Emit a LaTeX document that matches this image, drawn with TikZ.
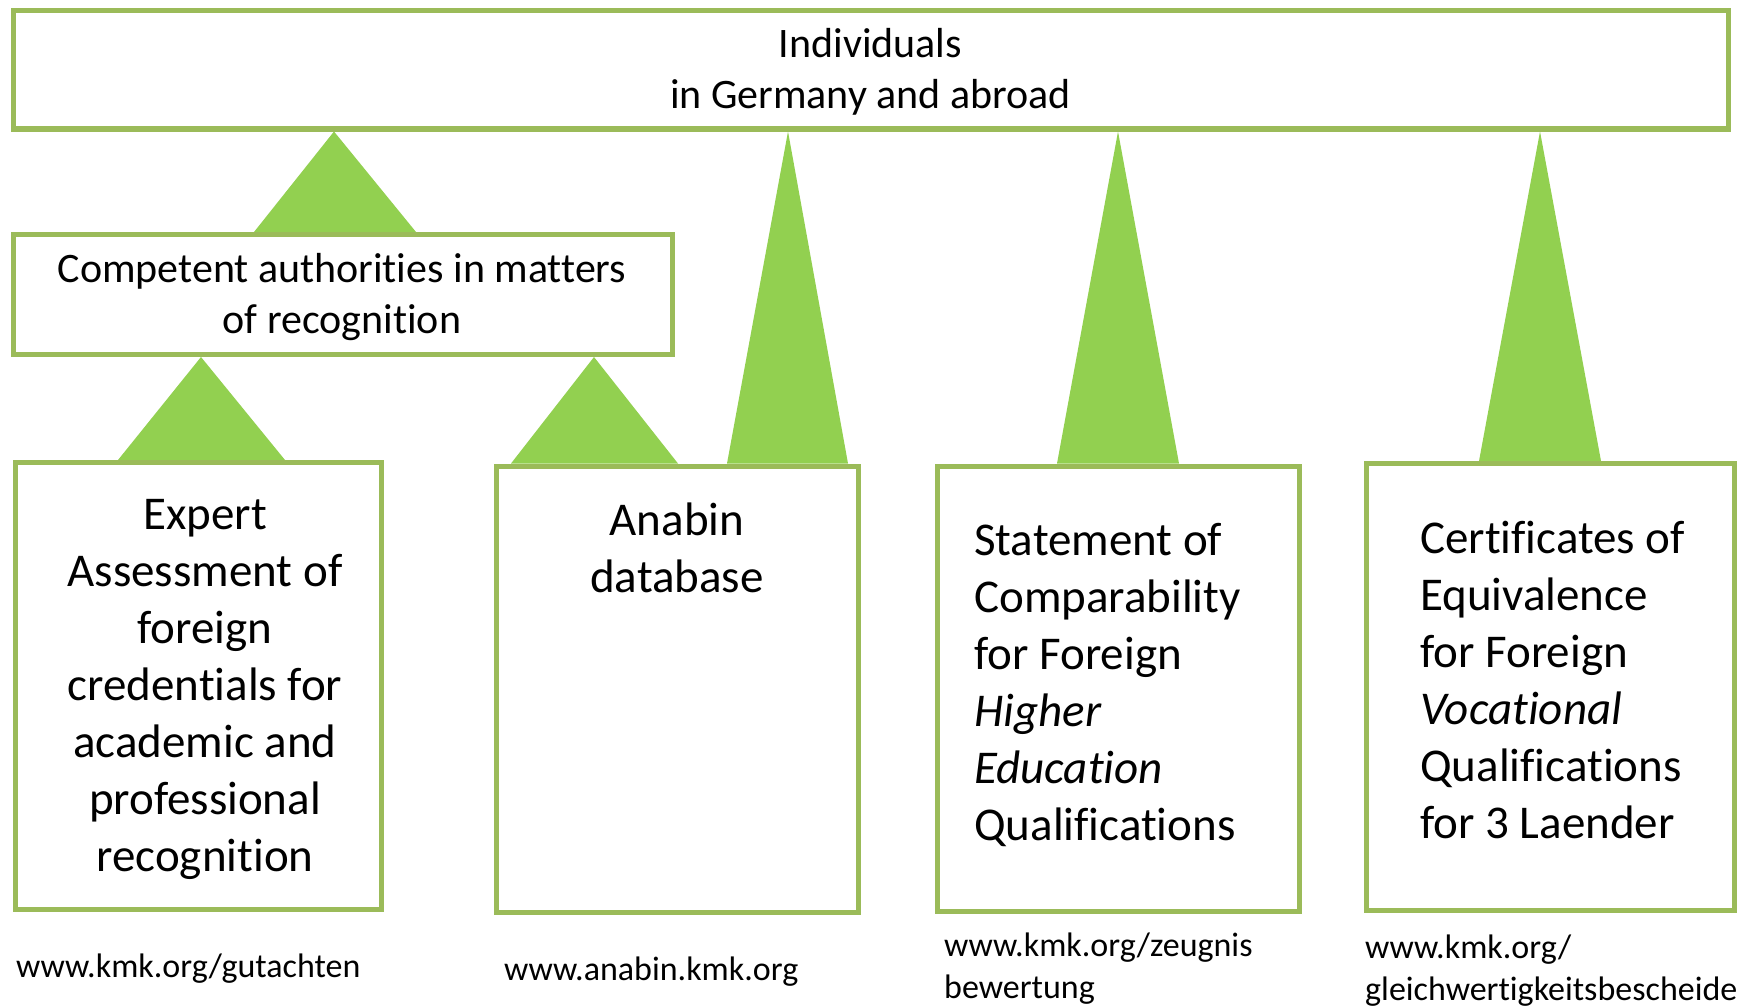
\documentclass[tikz,border=0pt]{standalone}
\usepackage{fontspec}
\setmainfont{Carlito}[Ligatures=NoCommon]
\definecolor{bord}{HTML}{9BBB59}
\definecolor{trig}{HTML}{92D050}
\begin{document}
\begin{tikzpicture}[x=1pt,y=-1pt,
  bx/.style={draw=bord, line width=5pt, inner sep=0pt, rectangle},
  tri/.style={fill=trig},
  big/.style={font=\fontsize{47}{57}\selectfont, inner sep=0pt},
  mid/.style={font=\fontsize{42}{51}\selectfont, inner sep=0pt, align=center},
  url/.style={font=\fontsize{34}{42}\selectfont, inner sep=0pt, align=left}]
\useasboundingbox (0,0) rectangle (1760,1006);
\fill[white] (0,0) rectangle (1760,1006);

% box shapes (named), borders drawn after the triangles
\node[bx, minimum width=1715pt, minimum height=118pt, draw=none] (top) at (870.5,70) {};
\node[bx, minimum width=659pt, minimum height=120pt, draw=none] (comp) at (343,294.5) {};
\node[bx, minimum width=366pt, minimum height=447pt, draw=none] (exp) at (198.5,686) {};
\node[bx, minimum width=362pt, minimum height=446pt, draw=none] (ana) at (677.5,689) {};
\node[bx, minimum width=362pt, minimum height=445pt, draw=none] (stm) at (1118.5,688.5) {};
\node[bx, minimum width=368pt, minimum height=447pt, draw=none] (cer) at (1550.5,687) {};

% triangles (connectors)
\fill[tri] (334,0 |- top.south) -- (416,0 |- comp.north) -- (254,0 |- comp.north) -- cycle;
\fill[tri] (201,0 |- comp.south) -- (285,0 |- exp.north) -- (118,0 |- exp.north) -- cycle;
\fill[tri] (594,0 |- comp.south) -- (678,0 |- ana.north) -- (511,0 |- ana.north) -- cycle;
\fill[tri] (788,0 |- top.south) -- (848,0 |- ana.north) -- (727,0 |- ana.north) -- cycle;
\fill[tri] (1118,0 |- top.south) -- (1179,0 |- stm.north) -- (1057,0 |- stm.north) -- cycle;
\fill[tri] (1540,0 |- top.south) -- (1601,0 |- cer.north) -- (1479,0 |- cer.north) -- cycle;

% box borders
\foreach \n in {top,comp,exp,ana,stm,cer}
  \draw[draw=bord, line width=5pt] (\n.south west) ++(2.5,-2.5) rectangle ([shift={(-2.5,2.5)}]\n.north east);

% texts
\node[mid, anchor=north] (ttop) at (870.5,23) {\rule{0pt}{34pt}Individuals\\in Germany and abroad};
\node[mid, anchor=north] (tcomp) at (342,248) {\rule{0pt}{34pt}Competent authorities in matters\\of recognition};
\node[big, align=center, anchor=north] (texp) at (205,489) {\rule{0pt}{40pt}Expert\\Assessment of\\foreign\\credentials for\\academic and\\professional\\recognition};
\node[big, align=center, anchor=north] (tana) at (677,495) {\rule{0pt}{40pt}Anabin\\database};
\node[big, align=left, anchor=north west] (tstm) at (974,515) {\rule{0pt}{40pt}Statement of\\Comparability\\for Foreign\\\textit{Higher}\\\textit{Education}\\Qualifications};
\node[big, align=left, anchor=north west] (tcer) at (1420,513) {\rule{0pt}{40pt}Certificates of\\Equivalence\\for Foreign\\\textit{Vocational}\\Qualifications\\for 3 Laender};

% URLs
\node[url, anchor=base west] (u1) at (16,977) {www.kmk.org/gutachten};
\node[url, anchor=base west] (u2) at (504,980) {www.anabin.kmk.org};
\node[url, anchor=north west] (u3) at (944,928) {\rule{0pt}{28pt}www.kmk.org/zeugnis\\bewertung};
\node[url, anchor=north west] (u4) at (1365,930) {\rule{0pt}{28pt}www.kmk.org/\\gleichwertigkeitsbescheide};
\end{tikzpicture}
\end{document}
